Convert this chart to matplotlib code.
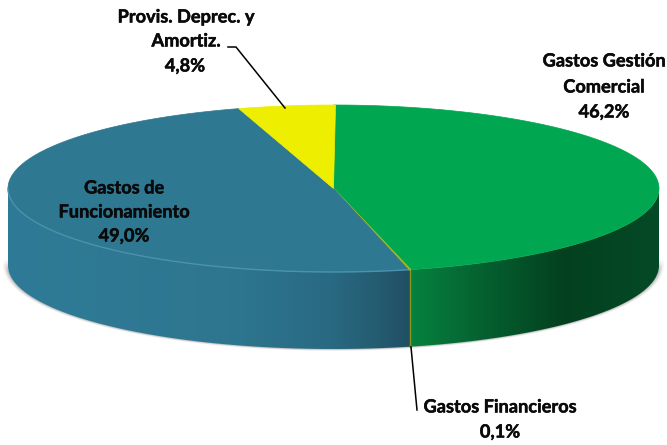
import numpy as np
import matplotlib
matplotlib.use("Agg")
import matplotlib.pyplot as plt
import matplotlib.patheffects as pe
from matplotlib.colors import LinearSegmentedColormap
from matplotlib.patches import Polygon

# Data, clockwise from 12 o'clock
categories = ["Gastos Gestión\nComercial", "Gastos Financieros", "Gastos de\nFuncionamiento", "Provis. Deprec. y\nAmortiz."]
values = [46.2, 0.1, 49.0, 4.8]
value_labels = ["46,2%", "0,1%", "49,0%", "4,8%"]
top_colors = ["#00A650", "#A8B820", "#2F7892", "#EEEE00"]

CX, CY, RX, RY, DEPTH = 333.5, 188.5, 325.5, 83.5, 77

fig = plt.figure(figsize=(6.67, 4.45), dpi=100)
ax = fig.add_axes([0, 0, 1, 1])
ax.axis("off")

def rim(t):
    return CX + RX * np.sin(t), CY - RY * np.cos(t)

# Soft shadow behind the side wall
t_all = np.linspace(np.pi / 2 - 0.02, 3 * np.pi / 2 + 0.02, 200)
for grow, alpha in zip([5, 4, 3, 2, 1], [.03, .04, .05, .07, .09]):
    xs = CX + (RX + grow) * np.sin(t_all)
    ys = CY - (RY + grow * .4) * np.cos(t_all) + DEPTH
    xs2 = CX + (RX + grow) * np.sin(t_all[::-1])
    ys2 = CY - RY * np.cos(t_all[::-1]) + 68
    ax.fill(np.r_[xs, xs2], np.r_[ys, ys2], color="k", alpha=alpha, lw=0, zorder=1)

angles = np.radians(np.r_[0, np.cumsum(values)] * 3.6)

# Side wall gradients, keyed on horizontal position
green_cmap = LinearSegmentedColormap.from_list("g", [(0, "#06823F"), (.3, "#056030"), (.62, "#03401F"), (1, "#054A26")])
blue_cmap = LinearSegmentedColormap.from_list("b", [(0, "#2F7B97"), (.55, "#2E7690"), (.8, "#296A82"), (.93, "#245A70"), (1, "#214F63")])

def wall(t0, t1, cmap):
    ts = np.linspace(t0, t1, 300)
    xs, ys = rim(ts)
    pts = np.c_[np.r_[xs, xs[::-1]], np.r_[ys, ys[::-1] + DEPTH]]
    lo, hi = xs.min(), xs.max()
    grad = np.linspace(0, 1, 512)[None, :]
    im = ax.imshow(grad, cmap=cmap, extent=(lo, hi, pts[:, 1].max(), pts[:, 1].min()),
                   aspect="auto", zorder=2, interpolation="bilinear")
    im.set_clip_path(Polygon(pts, closed=True, transform=ax.transData))

wall(np.pi / 2, angles[1] + 0.006, green_cmap)
wall(angles[2] - 0.006, 3 * np.pi / 2, blue_cmap)

ax.set_xlim(0, 667)
ax.set_ylim(445, 0)

# Thin financial slice seen on the wall
x0, y0 = rim(angles[1])
ax.plot([x0, x0], [y0, y0 + DEPTH], color="#8A9418", lw=1.0, zorder=3)

# Top faces
for i, col in enumerate(top_colors):
    ts = np.linspace(angles[i], angles[i + 1], 200)
    xs, ys = rim(ts)
    ax.fill(np.r_[CX, xs], np.r_[CY, ys], color=col, lw=0.5 if i != 1 else 1.0, zorder=4)

# Lighter rim on the blue top edge
ts = np.linspace(angles[2], 3 * np.pi / 2, 200)
xs, ys = rim(ts)
ax.plot(xs, ys, color="#4A93AD", lw=1.0, zorder=5)

# Leader lines
ax.plot([411, 417], [347, 410], color="k", lw=1.1, zorder=6)
ax.plot([228, 236, 285], [47, 47, 108], color="k", lw=1.1, zorder=6)

# Labels
font = dict(family="Lato", fontweight="bold", fontsize=13.1, color="#0A0A0A", ha="center", va="center", zorder=7,
            path_effects=[pe.withStroke(linewidth=0.35, foreground="#0A0A0A")])
ax.text(604, 61, categories[0].split("\n")[0], **font)
ax.text(604, 87, categories[0].split("\n")[1], **font)
ax.text(604, 112, value_labels[0], **font)
ax.text(500, 407, categories[1], **font)
ax.text(500, 432, value_labels[1], **font)
ax.text(124, 188, categories[2].split("\n")[0], **font)
ax.text(124, 212, categories[2].split("\n")[1], **font)
ax.text(124, 236, value_labels[2], **font)
ax.text(186, 17, categories[3].split("\n")[0], **font)
ax.text(186, 41, categories[3].split("\n")[1], **font)
ax.text(185, 66, value_labels[3], **font)

fig.savefig("out.png", dpi=100)
